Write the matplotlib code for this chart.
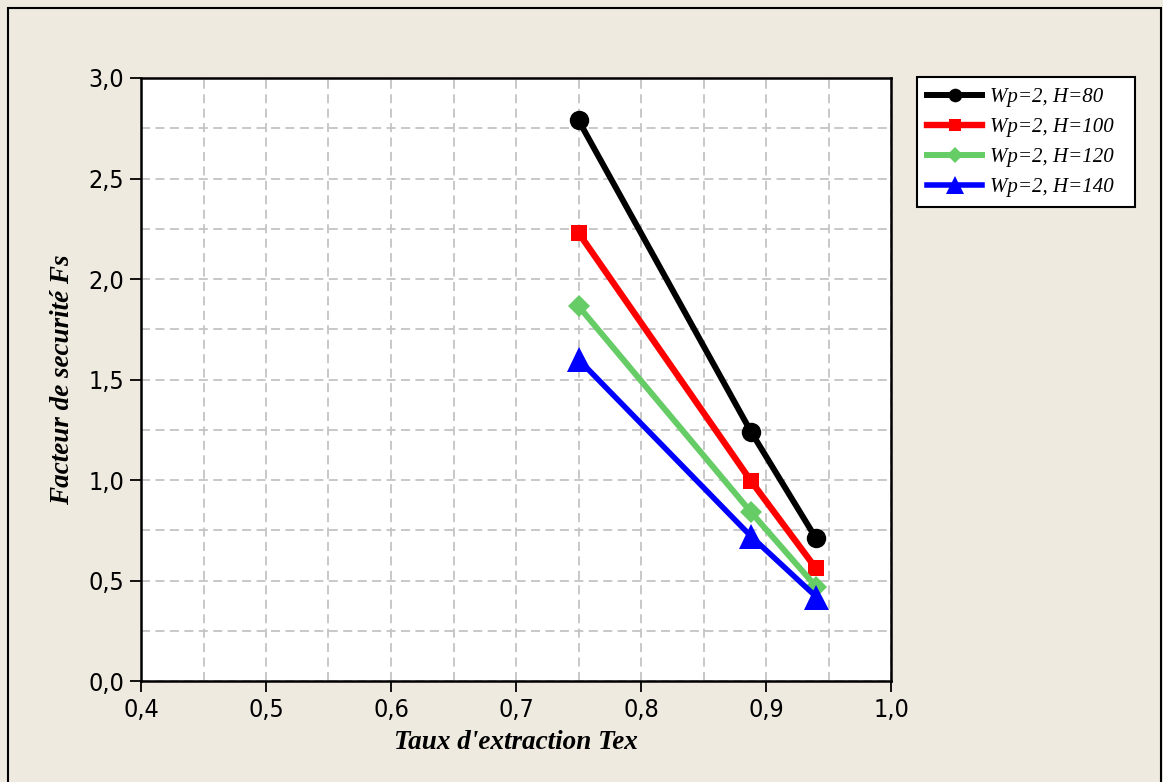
import matplotlib
matplotlib.use("Agg")
import matplotlib.pyplot as plt
from matplotlib.ticker import MultipleLocator, FuncFormatter
from matplotlib.patches import Rectangle

# Data
tex = [0.75, 0.888, 0.94]
fs_h80 = [2.79, 1.24, 0.71]
fs_h100 = [2.23, 0.995, 0.56]
fs_h120 = [1.865, 0.84, 0.47]
fs_h140 = [1.60, 0.72, 0.42]
labels = ["Wp=2, H=80", "Wp=2, H=100", "Wp=2, H=120", "Wp=2, H=140"]
colors = ["#000000", "#FF0000", "#66CC66", "#0000FF"]
markers = ["o", "s", "D", "^"]
msizes = [14, 12, 11, 18]
lwidths = [4.3, 4.6, 4.3, 4.0]
series = [fs_h80, fs_h100, fs_h120, fs_h140]

W, H = 1163, 782
fig = plt.figure(figsize=(W / 100, H / 100), dpi=100)
bg = "#EEEAE0"
fig.patch.set_facecolor(bg)

# outer frame
fig.patches.append(Rectangle((8 / W, -0.02), (1161 - 8) / W, 1 - 8 / H + 0.02,
                             transform=fig.transFigure, fill=False,
                             edgecolor="black", linewidth=1.5, zorder=0))

ax = fig.add_axes([141 / W, 1 - 681 / H, (891 - 141) / W, (681 - 78) / H])
ax.set_facecolor("white")

for ys, lab, c, m, ms, lw in zip(series, labels, colors, markers, msizes, lwidths):
    ax.plot(tex, ys, color=c, marker=m, markersize=ms, linewidth=lw,
            label=lab, zorder=3, markeredgewidth=0)

ax.set_xlim(0.4, 1.0)
ax.set_ylim(0.0, 3.0)
ax.xaxis.set_major_locator(MultipleLocator(0.1))
ax.xaxis.set_minor_locator(MultipleLocator(0.05))
ax.yaxis.set_major_locator(MultipleLocator(0.5))
ax.yaxis.set_minor_locator(MultipleLocator(0.25))
fmt = FuncFormatter(lambda v, p: f"{v:.1f}".replace(".", ","))
ax.xaxis.set_major_formatter(fmt)
ax.yaxis.set_major_formatter(fmt)

ax.grid(True, which="both", color="#C4C4C4", linestyle=(0, (5, 3)), linewidth=1.3, zorder=1)
ax.set_axisbelow(True)
for s in ax.spines.values():
    s.set_linewidth(1.8)
ax.tick_params(which="major", direction="out", length=8, width=1.3, pad=4)
ax.tick_params(which="minor", length=0)
for t in ax.get_xticklabels() + ax.get_yticklabels():
    t.set_fontfamily("DejaVu Sans")
    t.set_fontstretch("condensed")
    t.set_fontsize(18)

lab_font = dict(family="Liberation Serif", style="italic", weight="bold", size=19.5)
ax.set_xlabel("Taux d'extraction Tex", fontdict=lab_font, labelpad=6)
ax.set_ylabel("Facteur de securité Fs", fontdict=lab_font, labelpad=10)

leg = fig.legend(loc="upper left",
                 bbox_to_anchor=(917 / W, 1 - 198 / H, 218 / W, 121 / H),
                 mode="expand",
                 prop=dict(family="Liberation Serif", style="italic", size=15),
                 frameon=True, fancybox=False, edgecolor="black", facecolor="white",
                 framealpha=1, handlelength=2.6, handletextpad=0.4,
                 markerscale=0.7, labelspacing=0.5, borderpad=0.5,
                 borderaxespad=0)
leg.get_frame().set_linewidth(1.5)

fig.savefig("out.png", dpi=100, facecolor=bg)
